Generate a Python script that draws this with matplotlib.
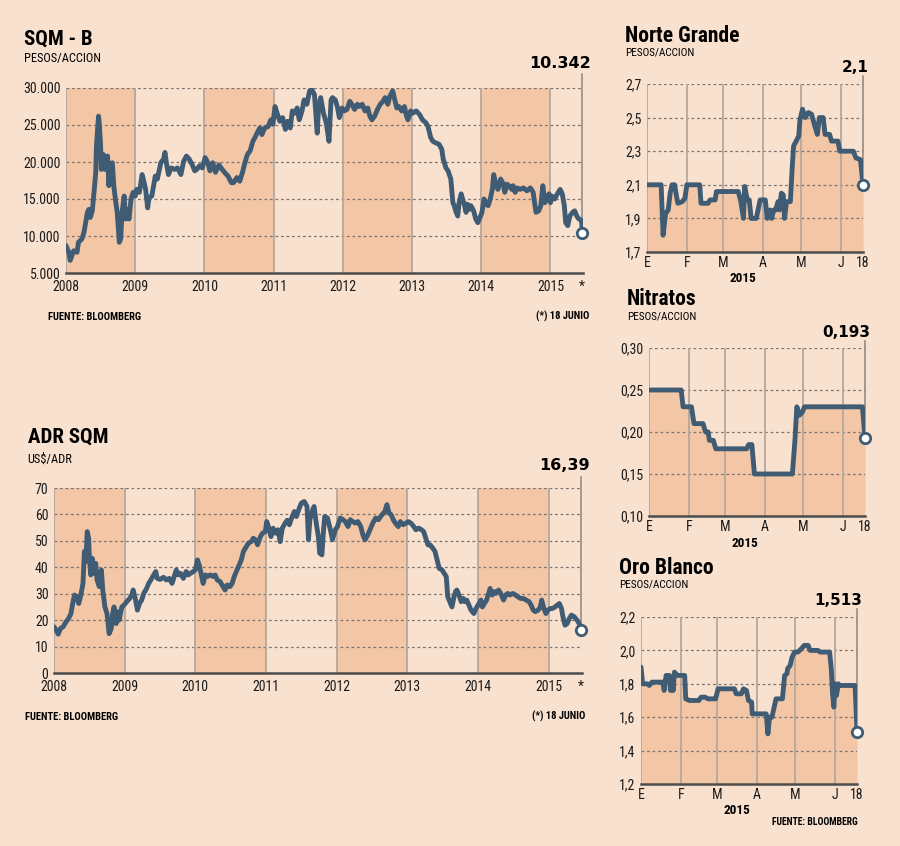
import matplotlib
matplotlib.use('Agg')
import matplotlib.pyplot as plt
from matplotlib import font_manager

# colours
BG = '#f9e1cf'
BAND = '#f3c6a5'
LINE = '#405c74'
GRID = '#7a7470'
VLINE = '#b3a79d'

# pick the narrowest sans that is installed
installed = {f.name for f in font_manager.fontManager.ttflist}
narrow_pref = ['Liberation Sans Narrow', 'Roboto Condensed', 'Open Sans Condensed',
               'Liberation Sans', 'Roboto', 'DejaVu Sans']
NARROW = [f for f in narrow_pref if f in installed][:1] + ['DejaVu Sans']
BOLDNUM = ['DejaVu Sans']

# ---- SQM-B (pesos/accion), decimal years
sqm_t = [2008.00, 2008.04, 2008.06, 2008.11, 2008.16, 2008.18, 2008.23, 2008.26, 2008.31, 2008.33,
         2008.35, 2008.38, 2008.40, 2008.43, 2008.44, 2008.47, 2008.48, 2008.50, 2008.51, 2008.54,
         2008.56, 2008.60, 2008.62, 2008.64, 2008.67, 2008.69, 2008.72, 2008.74, 2008.77, 2008.79,
         2008.81, 2008.84, 2008.86, 2008.89, 2008.91, 2008.94, 2008.97, 2009.00, 2009.02, 2009.06,
         2009.10, 2009.13, 2009.15, 2009.18, 2009.20, 2009.24, 2009.29, 2009.32, 2009.37, 2009.41,
         2009.43, 2009.45, 2009.48, 2009.52, 2009.57, 2009.61, 2009.66, 2009.70, 2009.74, 2009.78,
         2009.82, 2009.86, 2009.89, 2009.93, 2009.97, 2010.01, 2010.05, 2010.08, 2010.12, 2010.16,
         2010.21, 2010.24, 2010.29, 2010.34, 2010.39, 2010.42, 2010.47, 2010.51, 2010.55, 2010.58,
         2010.62, 2010.66, 2010.70, 2010.73, 2010.76, 2010.80, 2010.83, 2010.87, 2010.92, 2010.96,
         2010.99, 2011.02, 2011.05, 2011.09, 2011.13, 2011.17, 2011.20, 2011.24, 2011.27, 2011.31,
         2011.34, 2011.37, 2011.41, 2011.44, 2011.48, 2011.52, 2011.55, 2011.59, 2011.63, 2011.65,
         2011.68, 2011.72, 2011.76, 2011.80, 2011.83, 2011.85, 2011.89, 2011.92, 2011.95, 2011.99,
         2012.02, 2012.06, 2012.10, 2012.13, 2012.17, 2012.21, 2012.24, 2012.28, 2012.32, 2012.36,
         2012.39, 2012.42, 2012.46, 2012.50, 2012.54, 2012.58, 2012.61, 2012.65, 2012.68, 2012.72,
         2012.75, 2012.78, 2012.81, 2012.85, 2012.89, 2012.92, 2012.94, 2012.98, 2013.01, 2013.06,
         2013.11, 2013.15, 2013.20, 2013.23, 2013.27, 2013.30, 2013.34, 2013.39, 2013.43, 2013.45,
         2013.49, 2013.52, 2013.56, 2013.59, 2013.61, 2013.63, 2013.66, 2013.68, 2013.71, 2013.73,
         2013.76, 2013.78, 2013.80, 2013.83, 2013.85, 2013.89, 2013.92, 2013.95, 2013.99, 2014.01,
         2014.04, 2014.07, 2014.10, 2014.13, 2014.16, 2014.18, 2014.21, 2014.24, 2014.28, 2014.31,
         2014.34, 2014.37, 2014.40, 2014.44, 2014.46, 2014.49, 2014.52, 2014.56, 2014.61, 2014.66,
         2014.71, 2014.75, 2014.77, 2014.79, 2014.83, 2014.86, 2014.89, 2014.92, 2014.94, 2014.98,
         2015.00, 2015.02, 2015.06, 2015.10, 2015.14, 2015.17, 2015.20, 2015.22, 2015.25, 2015.28,
         2015.32, 2015.35, 2015.38, 2015.41, 2015.45, 2015.46]
sqm_v = [8700, 7800, 6700, 8000, 7800, 9150, 9600, 10500, 13200, 13600,
         12500, 13400, 15400, 18600, 22200, 26200, 25300, 22200, 19000, 21000,
         19000, 20800, 16800, 19700, 19900, 16800, 14500, 13200, 9150, 9600,
         13200, 15400, 12300, 13600, 12300, 15000, 15900, 15400, 16300, 15900,
         18300, 17200, 16300, 13800, 15200, 15400, 18100, 17700, 19900, 20400,
         21300, 19900, 18300, 19200, 19000, 19200, 18300, 20100, 20800, 20400,
         19700, 18800, 19000, 19500, 19200, 20600, 19900, 18800, 19900, 18600,
         19600, 19200, 18600, 18100, 17200, 17200, 17900, 17400, 18600, 19700,
         21000, 21500, 22800, 23300, 23900, 24600, 23700, 24600, 24800, 25700,
         25100, 27500, 26600, 25500, 26000, 24400, 25500, 24600, 26900, 26600,
         27300, 25700, 26900, 28400, 27800, 29600, 29800, 29100, 23900, 27500,
         28700, 26600, 25300, 22800, 28400, 28700, 28400, 27500, 26000, 27300,
         26900, 27100, 28200, 27800, 27100, 27800, 27500, 27800, 26900, 27300,
         26200, 25700, 26200, 27100, 27800, 28200, 28700, 27800, 28900, 29600,
         28400, 27300, 27500, 26900, 27500, 26200, 25700, 26900, 26600, 26900,
         26400, 25700, 25300, 24800, 23300, 22800, 22600, 22400, 21700, 20400,
         19200, 18800, 17700, 14500, 14100, 13400, 12700, 14500, 15700, 15000,
         14100, 13200, 14300, 13600, 14100, 13400, 12300, 11800, 12700, 13200,
         15000, 14300, 14100, 15000, 16300, 18300, 17000, 16300, 17700, 17200,
         15900, 17000, 16800, 16300, 16800, 15900, 16500, 16300, 16500, 16100,
         16500, 15900, 14500, 13200, 13400, 14100, 16800, 14500, 15000, 15700,
         14500, 15400, 15000, 15700, 16300, 15700, 14100, 11800, 11400, 12700,
         13200, 13400, 12700, 12300, 12100, 10342]
sqm_ticks = [5000, 10000, 15000, 20000, 25000, 30000]
sqm_ticklabels = ['5.000', '10.000', '15.000', '20.000', '25.000', '30.000']

# ---- ADR SQM (US$/ADR)
adr_t = [2008.00, 2008.03, 2008.06, 2008.09, 2008.13, 2008.17, 2008.20, 2008.24, 2008.26, 2008.29,
         2008.32, 2008.35, 2008.38, 2008.41, 2008.43, 2008.45, 2008.47, 2008.49, 2008.50, 2008.52,
         2008.54, 2008.57, 2008.59, 2008.61, 2008.64, 2008.67, 2008.69, 2008.72, 2008.75, 2008.78,
         2008.81, 2008.83, 2008.85, 2008.88, 2008.90, 2008.92, 2008.96, 2008.99, 2009.03, 2009.07,
         2009.10, 2009.12, 2009.15, 2009.18, 2009.21, 2009.24, 2009.27, 2009.31, 2009.34, 2009.37,
         2009.41, 2009.44, 2009.46, 2009.50, 2009.55, 2009.59, 2009.63, 2009.67, 2009.70, 2009.73,
         2009.76, 2009.79, 2009.83, 2009.87, 2009.90, 2009.93, 2009.97, 2010.00, 2010.03, 2010.06,
         2010.09, 2010.11, 2010.14, 2010.17, 2010.21, 2010.25, 2010.28, 2010.31, 2010.35, 2010.39,
         2010.42, 2010.45, 2010.49, 2010.52, 2010.55, 2010.58, 2010.62, 2010.65, 2010.68, 2010.72,
         2010.75, 2010.79, 2010.82, 2010.85, 2010.88, 2010.92, 2010.95, 2010.99, 2011.01, 2011.04,
         2011.07, 2011.10, 2011.14, 2011.17, 2011.20, 2011.23, 2011.27, 2011.30, 2011.33, 2011.36,
         2011.40, 2011.43, 2011.47, 2011.50, 2011.54, 2011.58, 2011.60, 2011.62, 2011.66, 2011.68,
         2011.71, 2011.74, 2011.76, 2011.79, 2011.81, 2011.83, 2011.87, 2011.91, 2011.94, 2011.98,
         2012.01, 2012.05, 2012.09, 2012.12, 2012.16, 2012.19, 2012.23, 2012.26, 2012.30, 2012.34,
         2012.37, 2012.40, 2012.44, 2012.48, 2012.51, 2012.55, 2012.59, 2012.62, 2012.66, 2012.68,
         2012.71, 2012.74, 2012.77, 2012.80, 2012.83, 2012.87, 2012.90, 2012.94, 2012.98, 2013.01,
         2013.05, 2013.09, 2013.12, 2013.16, 2013.20, 2013.23, 2013.26, 2013.29, 2013.32, 2013.36,
         2013.39, 2013.42, 2013.45, 2013.49, 2013.52, 2013.55, 2013.57, 2013.60, 2013.63, 2013.66,
         2013.68, 2013.70, 2013.73, 2013.76, 2013.79, 2013.81, 2013.84, 2013.87, 2013.90, 2013.94,
         2013.97, 2014.00, 2014.04, 2014.06, 2014.09, 2014.12, 2014.15, 2014.17, 2014.20, 2014.23,
         2014.25, 2014.29, 2014.32, 2014.36, 2014.39, 2014.42, 2014.45, 2014.49, 2014.53, 2014.56,
         2014.60, 2014.64, 2014.68, 2014.72, 2014.75, 2014.78, 2014.81, 2014.85, 2014.88, 2014.90,
         2014.93, 2014.96, 2014.99, 2015.02, 2015.05, 2015.09, 2015.12, 2015.15, 2015.18, 2015.20,
         2015.23, 2015.26, 2015.29, 2015.32, 2015.36, 2015.40, 2015.43, 2015.46]
adr_v = [17.5, 16.2, 14.7, 16.8, 17.5, 19.4, 20.3, 22.5, 25.7, 29.5,
         28.9, 26.3, 29.5, 33.9, 46.0, 42.2, 53.5, 51.0, 44.1, 37.1,
         43.4, 37.7, 41.5, 35.2, 32.7, 39.0, 31.4, 25.0, 22.5, 14.9,
         16.8, 22.5, 25.0, 18.7, 23.2, 20.0, 25.0, 25.7, 27.0, 28.2,
         29.5, 31.4, 28.2, 23.8, 26.3, 27.6, 30.1, 32.0, 33.9, 35.2,
         37.1, 38.4, 35.8, 35.4, 36.2, 35.2, 35.8, 33.9, 36.5, 39.0,
         37.1, 37.7, 35.8, 38.4, 37.1, 37.7, 38.4, 39.0, 42.8, 40.3,
         36.5, 33.9, 37.1, 36.5, 37.1, 36.5, 37.1, 35.2, 34.6, 32.7,
         31.4, 33.3, 32.7, 33.9, 36.5, 38.4, 40.9, 42.8, 46.0, 47.8,
         49.1, 49.7, 51.0, 50.4, 48.5, 51.6, 52.9, 53.5, 57.3, 54.8,
         51.6, 54.8, 52.9, 54.2, 49.7, 54.8, 56.7, 57.8, 56.1, 58.5,
         61.1, 59.2, 62.4, 64.3, 64.9, 63.0, 50.4, 58.0, 61.8, 63.0,
         56.7, 51.6, 45.3, 44.7, 52.9, 59.2, 58.6, 54.2, 50.4, 54.2,
         55.4, 58.6, 58.0, 57.3, 55.4, 58.0, 57.3, 56.7, 57.3, 55.4,
         52.3, 50.4, 52.3, 54.8, 56.7, 58.6, 58.0, 59.2, 60.5, 61.1,
         63.7, 60.5, 59.9, 58.0, 56.7, 55.4, 57.3, 56.1, 56.7, 57.3,
         56.7, 55.4, 54.2, 54.8, 54.2, 53.5, 51.0, 48.5, 48.5, 47.2,
         46.0, 42.8, 39.6, 39.0, 37.7, 36.5, 28.9, 27.0, 25.0, 28.9,
         30.8, 31.4, 29.5, 27.0, 28.2, 27.0, 27.6, 25.7, 23.8, 22.5,
         24.4, 25.7, 27.6, 25.0, 26.3, 27.6, 30.1, 32.0, 29.5, 30.8,
         30.1, 31.4, 30.1, 27.6, 29.5, 30.1, 29.5, 30.1, 29.5, 28.9,
         28.2, 28.2, 27.6, 27.0, 25.7, 23.8, 23.2, 23.8, 25.0, 27.6,
         24.4, 22.5, 23.8, 24.4, 24.4, 25.0, 25.7, 26.3, 24.4, 21.3,
         18.1, 18.7, 20.6, 21.9, 21.3, 20.0, 18.7, 16.39]
adr_ticks = [0, 10, 20, 30, 40, 50, 60, 70]
adr_ticklabels = ['0', '10', '20', '30', '40', '50', '60', '70']

years = [2008, 2009, 2010, 2011, 2012, 2013, 2014, 2015]
year_labels = ['2008', '2009', '2010', '2011', '2012', '2013', '2014', '2015']
shaded_years = [2008, 2010, 2012, 2014]

# ---- 2015 series, day of year (0 = 1 Jan, 168 = 18 Jun)
ng_day = [0, 11, 12.5, 14.5, 16.5, 18, 19.5, 21.5, 23, 24, 27.5, 29.5, 31, 41, 42, 47.5, 49, 53, 54,
          71, 73, 75, 76, 78, 79.5, 81, 85, 88, 92, 93.5, 95.5, 97, 98.5, 100, 102, 103, 104.5, 106,
          107, 108.5, 111.5, 113, 114, 116, 118, 119, 121, 123, 125.5, 128, 130.5, 132.5, 134, 137,
          138.5, 142, 143.5, 148.5, 150, 160.5, 162.5, 166, 168]
ng_val = [2.10, 2.10, 1.80, 1.93, 1.95, 2.05, 2.10, 2.10, 2.03, 1.99, 2.00, 2.02, 2.10, 2.10, 1.99,
          1.99, 2.01, 2.01, 2.06, 2.06, 2.00, 1.90, 2.09, 2.01, 2.01, 1.90, 1.90, 2.01, 2.01, 1.90,
          1.95, 1.90, 1.95, 1.95, 2.00, 1.95, 2.05, 2.04, 1.90, 2.00, 2.00, 2.21, 2.33, 2.36, 2.39,
          2.49, 2.55, 2.50, 2.53, 2.52, 2.45, 2.40, 2.50, 2.50, 2.40, 2.40, 2.36, 2.36, 2.30, 2.30,
          2.26, 2.25, 2.10]

nit_day = [0, 25, 26.5, 33, 35, 42, 44, 46, 47, 50, 52, 76, 77.5, 80, 82, 111.5, 113.5, 115, 117,
           119, 121, 166, 168]
nit_val = [0.25, 0.25, 0.23, 0.23, 0.21, 0.21, 0.20, 0.20, 0.19, 0.19, 0.18, 0.18, 0.185, 0.185,
           0.15, 0.15, 0.19, 0.23, 0.22, 0.223, 0.23, 0.23, 0.193]

oro_day = [0, 1.3, 5, 6.5, 8.5, 17, 18, 19.5, 22, 23, 24, 25, 26, 28.5, 34, 34.8, 37.7, 45, 46.7,
           50, 52, 58, 60, 72.7, 74, 78, 79.7, 82, 83.6, 86, 86.5, 97.4, 98.7, 100, 101.8, 103, 105,
           110, 111.7, 113.5, 114, 116, 117.5, 119.5, 122, 124.7, 127, 130, 131.5, 137.6, 139.5,
           146.7, 148, 149, 150, 151, 152, 153.5, 154.5, 166.5, 168]
oro_val = [1.90, 1.80, 1.80, 1.79, 1.81, 1.81, 1.76, 1.85, 1.85, 1.76, 1.84, 1.76, 1.87, 1.85, 1.85,
           1.71, 1.70, 1.70, 1.72, 1.72, 1.71, 1.71, 1.77, 1.77, 1.74, 1.74, 1.77, 1.76, 1.70, 1.69,
           1.62, 1.62, 1.50, 1.60, 1.60, 1.64, 1.71, 1.71, 1.85, 1.86, 1.89, 1.91, 1.96, 1.99, 1.99,
           2.01, 2.03, 2.03, 2.00, 2.00, 1.99, 1.99, 1.89, 1.74, 1.66, 1.80, 1.73, 1.80, 1.79, 1.79,
           1.513]

month_days = [0, 31, 59, 90, 120, 151, 168]
month_labels = ['E', 'F', 'M', 'A', 'M', 'J', '18']

W, H = 900, 846
fig = plt.figure(figsize=(9, 8.46), dpi=100, facecolor=BG)


def add_ax(left, top, right, bottom):
    return fig.add_axes([left / W, 1 - bottom / H, (right - left) / W, (bottom - top) / H])


def ftext(x, y, s, **kw):
    fig.text(x / W, 1 - y / H, s, **kw)


def style_common(ax, ylim, yticks, ylabels, tick_size):
    ax.set_facecolor('none')
    ax.set_ylim(*ylim)
    ax.set_yticks(yticks)
    ax.set_yticklabels(ylabels, family=NARROW, fontsize=tick_size, color='#1a1a1a')
    for yt in yticks[1:]:
        ax.axhline(yt, color=GRID, lw=0.9, ls=(0, (2.2, 2.2)), zorder=1)
    for s in ['left', 'right', 'top']:
        ax.spines[s].set_visible(False)
    ax.spines['bottom'].set_color('#4d4d4d')
    ax.spines['bottom'].set_linewidth(1.8)
    ax.spines['bottom'].set_zorder(5)
    ax.tick_params(length=0, pad=4)


def end_marker(ax, x, y, top_px, ax_top_px, ax_bot_px):
    y0, y1 = ax.get_ylim()
    top = y1 + (ax_top_px - top_px) / (ax_bot_px - ax_top_px) * (y1 - y0)
    ax.plot([x, x], [y, top], color='#8c8580', lw=1.1, clip_on=False, zorder=2)
    ax.plot(x, y, 'o', ms=7.5, mfc='white', mec=LINE, mew=2, clip_on=False, zorder=6)


def big_chart(box, t, v, ylim, yticks, ylabels, label_top):
    left, top, right, bottom = box
    ax = add_ax(left, top, right, bottom)
    style_common(ax, ylim, yticks, ylabels, 10)
    for y0 in shaded_years:
        ax.axvspan(y0, y0 + 1, color=BAND, lw=0, zorder=0)
    for y in years:
        ax.axvline(y, color=VLINE, lw=1.3, zorder=1)
    ax.set_xlim(2008, t[-1] + 0.01)
    ax.plot(t, v, color=LINE, lw=3.5, solid_joinstyle='round', solid_capstyle='round', zorder=4)
    ax.set_xticks(years + [t[-1]])
    ax.set_xticklabels(year_labels + ['*'], family=NARROW, fontsize=10, color='#1a1a1a')
    ax.tick_params(axis='x', pad=5)
    end_marker(ax, t[-1], v[-1], label_top, top, bottom)
    return ax


def small_chart(box, d, v, ylim, yticks, ylabels, label_top):
    left, top, right, bottom = box
    ax = add_ax(left, top, right, bottom)
    style_common(ax, ylim, yticks, ylabels, 10)
    ax.fill_between(d, v, ylim[0], color=BAND, lw=0, zorder=0)
    for m in month_days[:-1]:
        ax.axvline(m, color=VLINE, lw=1.3, zorder=1)
    ax.set_xlim(0, 168)
    ax.plot(d, v, color=LINE, lw=3.5, solid_joinstyle='round', solid_capstyle='round', zorder=4)
    ax.set_xticks(month_days)
    ax.set_xticklabels(month_labels, family=NARROW, fontsize=10, color='#1a1a1a')
    ax.tick_params(axis='x', pad=3)
    end_marker(ax, d[-1], v[-1], label_top, top, bottom)
    return ax


# SQM - B
big_chart((66, 88, 583, 273), sqm_t, sqm_v, (5000, 30000), sqm_ticks, sqm_ticklabels, 74)
ftext(24, 45, 'SQM - B', family=NARROW, fontsize=15, fontweight='bold', va='baseline')
ftext(24, 62, 'PESOS/ACCION', family=NARROW, fontsize=8.9, va='baseline')
ftext(591, 68, '10.342', family=BOLDNUM, fontsize=11.5, fontweight='bold', ha='right', va='baseline')
ftext(48, 320, 'FUENTE: BLOOMBERG', family=NARROW, fontsize=7.6, fontweight='bold', va='baseline')
ftext(589, 320, '(*) 18 JUNIO', family=NARROW, fontsize=7.6, fontweight='bold', ha='right', va='baseline')

# ADR SQM
big_chart((54, 488, 582, 673), adr_t, adr_v, (0, 70), adr_ticks, adr_ticklabels, 477)
ftext(28, 443, 'ADR SQM', family=NARROW, fontsize=15, fontweight='bold', va='baseline')
ftext(27, 463, 'US$/ADR', family=NARROW, fontsize=8.9, va='baseline')
ftext(590, 470, '16,39', family=BOLDNUM, fontsize=11.5, fontweight='bold', ha='right', va='baseline')
ftext(25, 720, 'FUENTE: BLOOMBERG', family=NARROW, fontsize=7.6, fontweight='bold', va='baseline')
ftext(585, 720, '(*) 18 JUNIO', family=NARROW, fontsize=7.6, fontweight='bold', ha='right', va='baseline')

# Norte Grande
small_chart((647, 84, 863, 252), ng_day, ng_val, (1.7, 2.7), [1.7, 1.9, 2.1, 2.3, 2.5, 2.7],
            ['1,7', '1,9', '2,1', '2,3', '2,5', '2,7'], 76)
ftext(625, 42, 'Norte Grande', family=NARROW, fontsize=15.5, fontweight='bold', va='baseline')
ftext(625, 56, 'PESOS/ACCION', family=NARROW, fontsize=8.1, va='baseline')
ftext(869, 72, '2,1', family=BOLDNUM, fontsize=11, fontweight='bold', ha='right', va='baseline')
ftext(743, 282, '2015', family=NARROW, fontsize=9.5, fontweight='bold', ha='center', va='baseline')

# Nitratos
small_chart((649, 348, 865, 516), nit_day, nit_val, (0.10, 0.30), [0.10, 0.15, 0.20, 0.25, 0.30],
            ['0,10', '0,15', '0,20', '0,25', '0,30'], 341)
ftext(627, 305, 'Nitratos', family=NARROW, fontsize=15.5, fontweight='bold', va='baseline')
ftext(627, 320, 'PESOS/ACCION', family=NARROW, fontsize=8.1, va='baseline')
ftext(870, 337, '0,193', family=BOLDNUM, fontsize=11, fontweight='bold', ha='right', va='baseline')
ftext(745, 547, '2015', family=NARROW, fontsize=9.5, fontweight='bold', ha='center', va='baseline')

# Oro Blanco
small_chart((641, 617, 857, 784), oro_day, oro_val, (1.2, 2.2), [1.2, 1.4, 1.6, 1.8, 2.0, 2.2],
            ['1,2', '1,4', '1,6', '1,8', '2,0', '2,2'], 609)
ftext(619, 574, 'Oro Blanco', family=NARROW, fontsize=15.5, fontweight='bold', va='baseline')
ftext(619, 588, 'PESOS/ACCION', family=NARROW, fontsize=8.1, va='baseline')
ftext(862, 605, '1,513', family=BOLDNUM, fontsize=11, fontweight='bold', ha='right', va='baseline')
ftext(737, 814, '2015', family=NARROW, fontsize=9.5, fontweight='bold', ha='center', va='baseline')
ftext(858, 825, 'FUENTE: BLOOMBERG', family=NARROW, fontsize=7.0, fontweight='bold', ha='right', va='baseline')

fig.savefig('out.png', dpi=100, facecolor=BG)
